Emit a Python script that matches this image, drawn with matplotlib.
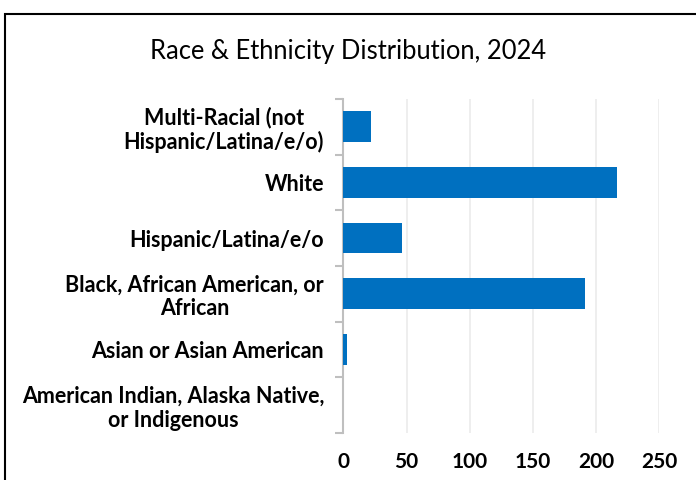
import matplotlib.pyplot as plt
from matplotlib.patches import Rectangle
import numpy as np

# categories bottom to top
categorias = ['American Indian, Alaska Native,\nor Indigenous',
              'Asian or Asian American',
              'Black, African American, or\nAfrican',
              'Hispanic/Latina/e/o',
              'White',
              'Multi-Racial (not\nHispanic/Latina/e/o)']
valores = [0, 3, 191, 46, 217, 22]
ticks_x = [0, 50, 100, 150, 200, 250]

plt.rcParams['font.family'] = ['Lato', 'DejaVu Sans']

fig = plt.figure(figsize=(6.96, 4.8), dpi=100)
ax = fig.add_axes([0.4935, 0.098, 0.4533, 0.696])

y = np.arange(len(categorias))
ax.barh(y, valores, height=0.55, color='#0070C0', zorder=3)

ax.set_xlim(0, 250)
ax.set_ylim(-0.5, len(categorias) - 0.5)
ax.set_xticks(ticks_x)
ax.set_xticklabels([str(t) for t in ticks_x], fontsize=15, fontweight='bold')
ax.tick_params(axis='x', length=0, pad=14)

ax.set_yticks(y)
ax.set_yticklabels(categorias, fontsize=15.5, fontweight='bold',
                   multialignment='center', linespacing=1.15)
ax.tick_params(axis='y', which='major', length=0, pad=14)
ax.set_yticks(np.arange(len(categorias) + 1) - 0.5, minor=True)
ax.tick_params(axis='y', which='minor', length=6, width=1.5, color='#BFBFBF')

ax.grid(axis='x', color='#EBEBEB', linewidth=1.2, zorder=0)
for s in ['top', 'right', 'bottom']:
    ax.spines[s].set_visible(False)
ax.spines['left'].set_color('#BFBFBF')
ax.spines['left'].set_linewidth(1.5)

fig.text(0.5, 0.893, 'Race & Ethnicity Distribution, 2024', ha='center',
         va='center', fontsize=18.4)

# chart border, cut at right and bottom
fig.patches.append(Rectangle((5 / 696, -0.1), 1.2, 1.1 - 14 / 480,
                             transform=fig.transFigure, fill=False,
                             edgecolor='black', linewidth=1.5))

fig.savefig('out.png', dpi=100)
